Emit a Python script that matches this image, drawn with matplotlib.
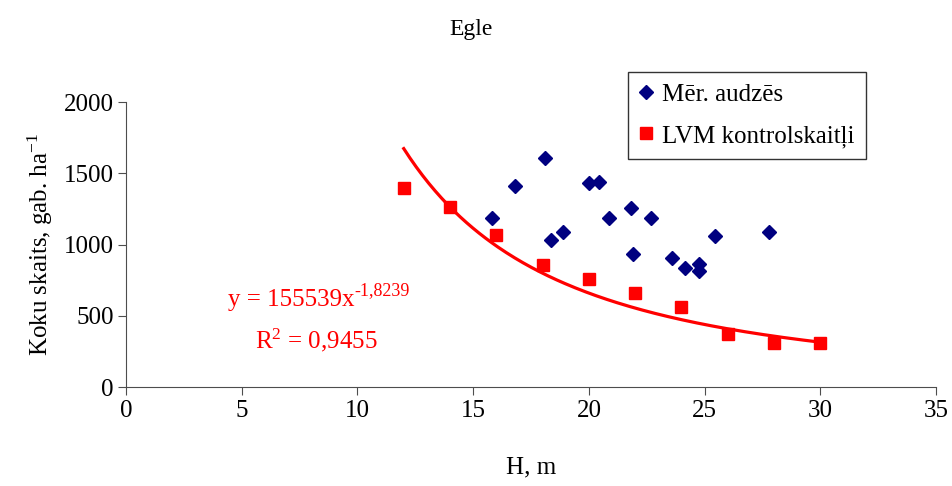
import matplotlib.pyplot as plt
import numpy as np

plt.rcParams['font.family'] = ['Liberation Serif', 'DejaVu Serif']
plt.rcParams['mathtext.fontset'] = 'custom'
plt.rcParams['mathtext.rm'] = 'Liberation Serif'
plt.rcParams['mathtext.it'] = 'Liberation Serif:italic'

# Mēr. audzēs (measured stands)
mer_h = [15.8, 16.8, 18.1, 18.35, 18.9, 20.0, 20.45, 20.85, 21.8, 21.9, 22.7,
         23.6, 24.15, 24.75, 24.75, 25.45, 27.8]
mer_n = [1185, 1410, 1605, 1030, 1090, 1430, 1440, 1185, 1255, 935, 1185,
         905, 835, 865, 815, 1060, 1090]

# LVM kontrolskaitļi
lvm_h = [12, 14, 16, 18, 20, 22, 24, 26, 28, 30]
lvm_n = [1400, 1265, 1065, 855, 755, 660, 560, 370, 310, 310]

# power trend
coef_a = 155539
coef_b = -1.8239

fig = plt.figure(figsize=(9.52, 4.86), dpi=100)
ax = fig.add_axes([0.1324, 0.2037, 0.8508, 0.5864])

xs = np.linspace(min(lvm_h), max(lvm_h), 200)
ax.plot(xs, coef_a * xs ** coef_b, color='#ff0000', lw=2.3, zorder=2)

ax.plot(mer_h, mer_n, 'D', color='#000080', ms=7, ls='none', label='Mēr. audzēs', zorder=3)
ax.plot(lvm_h, lvm_n, 's', color='#ff0000', ms=8.5, ls='none', label='LVM kontrolskaitļi', zorder=3)

ax.set_xlim(0, 35)
ax.set_ylim(0, 2000)
ax.set_xticks(np.arange(0, 36, 5))
ax.set_yticks(np.arange(0, 2001, 500))
ax.tick_params(labelsize=18, direction='out', length=6, color='0.3', pad=3)
for side in ['top', 'right']:
    ax.spines[side].set_visible(False)
for side in ['left', 'bottom']:
    ax.spines[side].set_color('0.3')

ax.set_xlabel('H, m', fontsize=18, labelpad=25)
ax.set_ylabel('Koku skaits, gab. ha$^{-1}$', fontsize=18, labelpad=6)
fig.text(0.495, 0.94, 'Egle', ha='center', va='center', fontsize=17)

eq = ax.text(4.4, 610, 'y = 155539x', color='#ff0000', fontsize=18,
             ha='left', va='center')
ax.annotate('-1,8239', xy=(1, 1), xycoords=eq, xytext=(0, 5),
            textcoords='offset points', color='#ff0000', fontsize=13,
            ha='left', va='top')
ax.text(8.2, 330, 'R$^2$ = 0,9455', color='#ff0000', fontsize=18,
        ha='center', va='center')

leg = ax.legend(loc='upper left', bbox_to_anchor=(0.62, 1.105), fontsize=18,
                frameon=True, fancybox=False, edgecolor='black', borderaxespad=0,
                handletextpad=0.36, handlelength=0.55, borderpad=0.45, labelspacing=0.75)
leg.get_frame().set_linewidth(1)
leg.set_clip_on(False)

fig.savefig('out.png', dpi=100)
